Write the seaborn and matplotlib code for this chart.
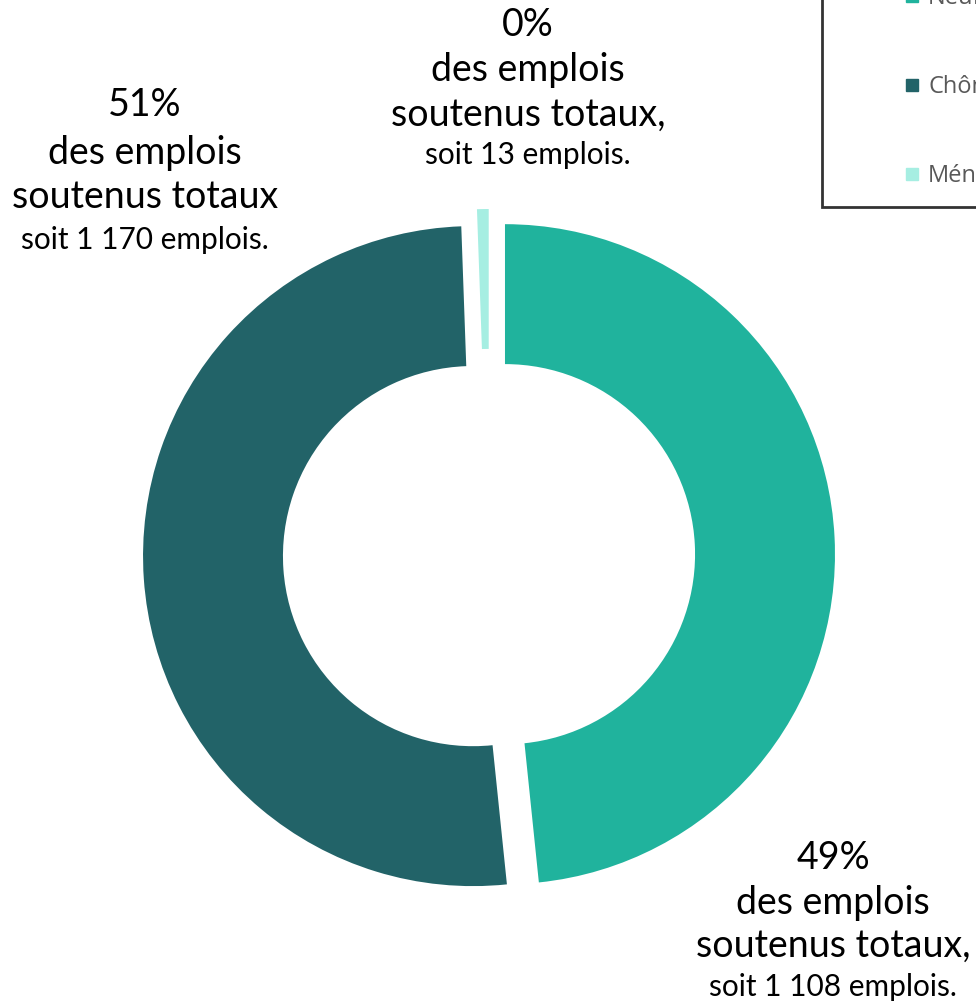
import matplotlib
matplotlib.use("Agg")
import matplotlib.pyplot as plt
import seaborn as sns
from matplotlib.lines import Line2D

# data
categories = ["Neuf", "Chômage", "Ménages"]
emplois = [1108, 1170, 13]
colors = ["#20B39D", "#226368", "#A6EEE2"]
labels = [
    ("49%", "des emplois", "soutenus totaux,", "soit 1 108 emplois."),
    ("51%", "des emplois", "soutenus totaux", "soit 1 170 emplois."),
    ("0%", "des emplois", "soutenus totaux,", "soit 13 emplois."),
]

sns.set_theme(style="white")
plt.rcParams["font.family"] = ["Lato", "DejaVu Sans"]

W, H = 976, 1008
fig = plt.figure(figsize=(W / 100, H / 100), dpi=100)
ax = fig.add_axes([0, 0, 1, 1])

cx, cy, R = 489, H - 555, 330
ax.pie(emplois, colors=colors, startangle=90, counterclock=False,
       center=(cx, cy), radius=R, explode=[16, 16, 16],
       wedgeprops=dict(width=R * 0.424, linewidth=0), frame=False)
ax.set_xlim(0, W)
ax.set_ylim(0, H)
ax.set_aspect("auto")
ax.axis("off")

# annotation blocks (x centre, y of each line in pixels from top)
label_pos = [(833, [858, 903, 946, 987]),
             (145, [105, 153, 197, 240]),
             (528, [25, 70, 115, 155])]
for lab, (x, ys) in zip(labels, label_pos):
    for i, (txt, y) in enumerate(zip(lab, ys)):
        ax.text(x, H - y, txt, ha="center", va="center",
                fontsize=21.5 if i == 3 else 27, color="black")

handles = [Line2D([], [], marker="s", linestyle="none", markersize=9,
                  markerfacecolor=c, markeredgecolor=c) for c in colors]
leg = fig.legend(handles, categories, loc="lower left",
                 bbox_to_anchor=(822 / W, 1 - 207 / H),
                 frameon=True, fancybox=False,
                 prop={"family": ["Open Sans", "DejaVu Sans"], "size": 17},
                 labelcolor="#595959", handlelength=6.0, handletextpad=-2.3,
                 labelspacing=2.75, borderpad=0.8, borderaxespad=0)
leg.get_frame().set_edgecolor("black")
leg.get_frame().set_linewidth(2)

fig.savefig("out.png", dpi=100)
